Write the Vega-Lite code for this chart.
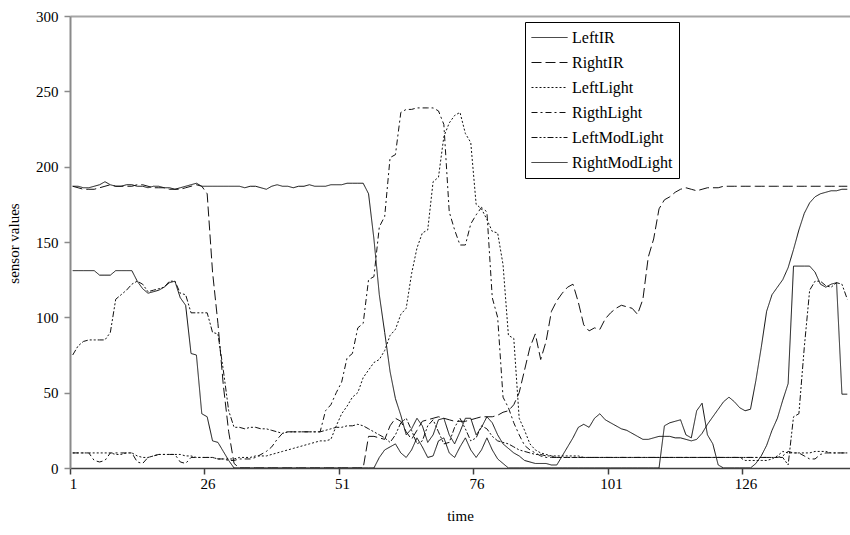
{
"$schema": "https://vega.github.io/schema/vega-lite/v6.json",
"width": 780, "height": 452,
"autosize": {"type": "none"},
"padding": {"left": 70, "top": 16, "right": 0, "bottom": 67},
"background": "white",
"config": {"font": "Liberation Serif", "view": {"stroke": null}},
"data": {"values": [
{"t":1,"LeftIR":187,"RightIR":187,"LeftLight":10,"RigthLight":10,"LeftModLight":75,"RightModLight":131},
{"t":2,"LeftIR":187,"RightIR":186,"LeftLight":10,"RigthLight":10,"LeftModLight":81,"RightModLight":131},
{"t":3,"LeftIR":186,"RightIR":185,"LeftLight":10,"RigthLight":10,"LeftModLight":84,"RightModLight":131},
{"t":4,"LeftIR":186,"RightIR":185,"LeftLight":10,"RigthLight":10,"LeftModLight":85,"RightModLight":131},
{"t":5,"LeftIR":187,"RightIR":185,"LeftLight":10,"RigthLight":5,"LeftModLight":85,"RightModLight":131},
{"t":6,"LeftIR":188,"RightIR":186,"LeftLight":10,"RigthLight":4,"LeftModLight":85,"RightModLight":128},
{"t":7,"LeftIR":190,"RightIR":187,"LeftLight":10,"RigthLight":5,"LeftModLight":85,"RightModLight":128},
{"t":8,"LeftIR":188,"RightIR":188,"LeftLight":10,"RigthLight":10,"LeftModLight":90,"RightModLight":128},
{"t":9,"LeftIR":187,"RightIR":187,"LeftLight":9,"RigthLight":10,"LeftModLight":112,"RightModLight":131},
{"t":10,"LeftIR":187,"RightIR":187,"LeftLight":9,"RigthLight":10,"LeftModLight":115,"RightModLight":131},
{"t":11,"LeftIR":188,"RightIR":187,"LeftLight":10,"RigthLight":10,"LeftModLight":118,"RightModLight":131},
{"t":12,"LeftIR":188,"RightIR":187,"LeftLight":10,"RigthLight":10,"LeftModLight":122,"RightModLight":131},
{"t":13,"LeftIR":187,"RightIR":188,"LeftLight":8,"RigthLight":4,"LeftModLight":124,"RightModLight":124},
{"t":14,"LeftIR":187,"RightIR":188,"LeftLight":7,"RigthLight":3,"LeftModLight":122,"RightModLight":119},
{"t":15,"LeftIR":186,"RightIR":187,"LeftLight":7,"RigthLight":7,"LeftModLight":117,"RightModLight":116},
{"t":16,"LeftIR":187,"RightIR":186,"LeftLight":8,"RigthLight":8,"LeftModLight":118,"RightModLight":117},
{"t":17,"LeftIR":187,"RightIR":186,"LeftLight":9,"RigthLight":9,"LeftModLight":119,"RightModLight":118},
{"t":18,"LeftIR":186,"RightIR":186,"LeftLight":9,"RigthLight":9,"LeftModLight":120,"RightModLight":120},
{"t":19,"LeftIR":186,"RightIR":185,"LeftLight":9,"RigthLight":9,"LeftModLight":124,"RightModLight":123},
{"t":20,"LeftIR":185,"RightIR":185,"LeftLight":9,"RigthLight":9,"LeftModLight":124,"RightModLight":124},
{"t":21,"LeftIR":186,"RightIR":185,"LeftLight":9,"RigthLight":4,"LeftModLight":116,"RightModLight":113},
{"t":22,"LeftIR":187,"RightIR":186,"LeftLight":8,"RigthLight":3,"LeftModLight":115,"RightModLight":108},
{"t":23,"LeftIR":188,"RightIR":187,"LeftLight":8,"RigthLight":7,"LeftModLight":103,"RightModLight":76},
{"t":24,"LeftIR":189,"RightIR":188,"LeftLight":7,"RigthLight":7,"LeftModLight":103,"RightModLight":75},
{"t":25,"LeftIR":187,"RightIR":187,"LeftLight":7,"RigthLight":7,"LeftModLight":103,"RightModLight":36},
{"t":26,"LeftIR":187,"RightIR":182,"LeftLight":7,"RigthLight":7,"LeftModLight":103,"RightModLight":34},
{"t":27,"LeftIR":187,"RightIR":130,"LeftLight":7,"RigthLight":7,"LeftModLight":90,"RightModLight":18},
{"t":28,"LeftIR":187,"RightIR":96,"LeftLight":6,"RigthLight":6,"LeftModLight":89,"RightModLight":17},
{"t":29,"LeftIR":187,"RightIR":55,"LeftLight":6,"RigthLight":6,"LeftModLight":65,"RightModLight":11},
{"t":30,"LeftIR":187,"RightIR":24,"LeftLight":6,"RigthLight":5,"LeftModLight":38,"RightModLight":5},
{"t":31,"LeftIR":187,"RightIR":3,"LeftLight":6,"RigthLight":5,"LeftModLight":27,"RightModLight":0},
{"t":32,"LeftIR":187,"RightIR":0,"LeftLight":7,"RigthLight":6,"LeftModLight":27,"RightModLight":0},
{"t":33,"LeftIR":186,"RightIR":0,"LeftLight":7,"RigthLight":6,"LeftModLight":26,"RightModLight":0},
{"t":34,"LeftIR":187,"RightIR":0,"LeftLight":7,"RigthLight":6,"LeftModLight":27,"RightModLight":0},
{"t":35,"LeftIR":187,"RightIR":0,"LeftLight":8,"RigthLight":7,"LeftModLight":27,"RightModLight":0},
{"t":36,"LeftIR":186,"RightIR":0,"LeftLight":8,"RigthLight":9,"LeftModLight":26,"RightModLight":0},
{"t":37,"LeftIR":185,"RightIR":0,"LeftLight":8,"RigthLight":11,"LeftModLight":26,"RightModLight":0},
{"t":38,"LeftIR":187,"RightIR":0,"LeftLight":9,"RigthLight":14,"LeftModLight":25,"RightModLight":0},
{"t":39,"LeftIR":188,"RightIR":0,"LeftLight":10,"RigthLight":19,"LeftModLight":24,"RightModLight":0},
{"t":40,"LeftIR":187,"RightIR":0,"LeftLight":11,"RigthLight":23,"LeftModLight":23,"RightModLight":0},
{"t":41,"LeftIR":187,"RightIR":0,"LeftLight":12,"RigthLight":24,"LeftModLight":24,"RightModLight":0},
{"t":42,"LeftIR":186,"RightIR":0,"LeftLight":13,"RigthLight":24,"LeftModLight":24,"RightModLight":0},
{"t":43,"LeftIR":187,"RightIR":0,"LeftLight":14,"RigthLight":24,"LeftModLight":24,"RightModLight":0},
{"t":44,"LeftIR":187,"RightIR":0,"LeftLight":15,"RigthLight":24,"LeftModLight":24,"RightModLight":0},
{"t":45,"LeftIR":188,"RightIR":0,"LeftLight":16,"RigthLight":24,"LeftModLight":24,"RightModLight":0},
{"t":46,"LeftIR":187,"RightIR":0,"LeftLight":17,"RigthLight":24,"LeftModLight":24,"RightModLight":0},
{"t":47,"LeftIR":187,"RightIR":0,"LeftLight":18,"RigthLight":24,"LeftModLight":24,"RightModLight":0},
{"t":48,"LeftIR":187,"RightIR":0,"LeftLight":18,"RigthLight":38,"LeftModLight":25,"RightModLight":0},
{"t":49,"LeftIR":188,"RightIR":0,"LeftLight":19,"RigthLight":42,"LeftModLight":26,"RightModLight":0},
{"t":50,"LeftIR":188,"RightIR":0,"LeftLight":28,"RigthLight":50,"LeftModLight":27,"RightModLight":0},
{"t":51,"LeftIR":188,"RightIR":0,"LeftLight":36,"RigthLight":57,"LeftModLight":27,"RightModLight":0},
{"t":52,"LeftIR":189,"RightIR":0,"LeftLight":41,"RigthLight":73,"LeftModLight":28,"RightModLight":0},
{"t":53,"LeftIR":189,"RightIR":0,"LeftLight":47,"RigthLight":76,"LeftModLight":28,"RightModLight":0},
{"t":54,"LeftIR":189,"RightIR":0,"LeftLight":50,"RigthLight":93,"LeftModLight":29,"RightModLight":0},
{"t":55,"LeftIR":189,"RightIR":0,"LeftLight":60,"RigthLight":96,"LeftModLight":28,"RightModLight":0},
{"t":56,"LeftIR":182,"RightIR":21,"LeftLight":65,"RigthLight":125,"LeftModLight":26,"RightModLight":0},
{"t":57,"LeftIR":152,"RightIR":21,"LeftLight":70,"RigthLight":127,"LeftModLight":24,"RightModLight":0},
{"t":58,"LeftIR":115,"RightIR":20,"LeftLight":72,"RigthLight":160,"LeftModLight":22,"RightModLight":7},
{"t":59,"LeftIR":90,"RightIR":19,"LeftLight":78,"RigthLight":167,"LeftModLight":20,"RightModLight":12},
{"t":60,"LeftIR":64,"RightIR":28,"LeftLight":88,"RigthLight":206,"LeftModLight":17,"RightModLight":14},
{"t":61,"LeftIR":46,"RightIR":33,"LeftLight":92,"RigthLight":208,"LeftModLight":22,"RightModLight":16},
{"t":62,"LeftIR":35,"RightIR":31,"LeftLight":102,"RigthLight":236,"LeftModLight":30,"RightModLight":10},
{"t":63,"LeftIR":22,"RightIR":24,"LeftLight":106,"RigthLight":238,"LeftModLight":33,"RightModLight":7},
{"t":64,"LeftIR":26,"RightIR":19,"LeftLight":129,"RigthLight":238,"LeftModLight":25,"RightModLight":12},
{"t":65,"LeftIR":33,"RightIR":25,"LeftLight":146,"RigthLight":239,"LeftModLight":16,"RightModLight":20},
{"t":66,"LeftIR":28,"RightIR":31,"LeftLight":156,"RigthLight":239,"LeftModLight":18,"RightModLight":14},
{"t":67,"LeftIR":17,"RightIR":32,"LeftLight":158,"RigthLight":239,"LeftModLight":28,"RightModLight":7},
{"t":68,"LeftIR":22,"RightIR":33,"LeftLight":190,"RigthLight":239,"LeftModLight":32,"RightModLight":8},
{"t":69,"LeftIR":32,"RightIR":34,"LeftLight":193,"RigthLight":237,"LeftModLight":24,"RightModLight":18},
{"t":70,"LeftIR":33,"RightIR":33,"LeftLight":220,"RigthLight":228,"LeftModLight":16,"RightModLight":20},
{"t":71,"LeftIR":22,"RightIR":32,"LeftLight":229,"RigthLight":170,"LeftModLight":17,"RightModLight":10},
{"t":72,"LeftIR":16,"RightIR":31,"LeftLight":234,"RigthLight":158,"LeftModLight":27,"RightModLight":7},
{"t":73,"LeftIR":24,"RightIR":31,"LeftLight":236,"RigthLight":148,"LeftModLight":33,"RightModLight":14},
{"t":74,"LeftIR":33,"RightIR":31,"LeftLight":222,"RigthLight":148,"LeftModLight":26,"RightModLight":20},
{"t":75,"LeftIR":33,"RightIR":32,"LeftLight":216,"RigthLight":162,"LeftModLight":18,"RightModLight":12},
{"t":76,"LeftIR":22,"RightIR":33,"LeftLight":175,"RigthLight":168,"LeftModLight":20,"RightModLight":7},
{"t":77,"LeftIR":27,"RightIR":34,"LeftLight":172,"RigthLight":173,"LeftModLight":28,"RightModLight":12},
{"t":78,"LeftIR":34,"RightIR":34,"LeftLight":165,"RigthLight":170,"LeftModLight":26,"RightModLight":20},
{"t":79,"LeftIR":30,"RightIR":34,"LeftLight":157,"RigthLight":113,"LeftModLight":21,"RightModLight":12},
{"t":80,"LeftIR":22,"RightIR":35,"LeftLight":156,"RigthLight":100,"LeftModLight":18,"RightModLight":6},
{"t":81,"LeftIR":16,"RightIR":37,"LeftLight":135,"RigthLight":47,"LeftModLight":17,"RightModLight":3},
{"t":82,"LeftIR":13,"RightIR":38,"LeftLight":88,"RigthLight":40,"LeftModLight":16,"RightModLight":0},
{"t":83,"LeftIR":10,"RightIR":42,"LeftLight":86,"RigthLight":30,"LeftModLight":14,"RightModLight":0},
{"t":84,"LeftIR":8,"RightIR":50,"LeftLight":33,"RigthLight":22,"LeftModLight":12,"RightModLight":0},
{"t":85,"LeftIR":5,"RightIR":65,"LeftLight":25,"RigthLight":15,"LeftModLight":11,"RightModLight":0},
{"t":86,"LeftIR":4,"RightIR":80,"LeftLight":16,"RigthLight":12,"LeftModLight":10,"RightModLight":0},
{"t":87,"LeftIR":3,"RightIR":89,"LeftLight":12,"RigthLight":10,"LeftModLight":9,"RightModLight":0},
{"t":88,"LeftIR":3,"RightIR":72,"LeftLight":10,"RigthLight":8,"LeftModLight":9,"RightModLight":0},
{"t":89,"LeftIR":3,"RightIR":84,"LeftLight":9,"RigthLight":7,"LeftModLight":8,"RightModLight":0},
{"t":90,"LeftIR":2,"RightIR":104,"LeftLight":8,"RigthLight":7,"LeftModLight":8,"RightModLight":0},
{"t":91,"LeftIR":2,"RightIR":111,"LeftLight":8,"RigthLight":7,"LeftModLight":7,"RightModLight":0},
{"t":92,"LeftIR":8,"RightIR":116,"LeftLight":8,"RigthLight":7,"LeftModLight":7,"RightModLight":0},
{"t":93,"LeftIR":14,"RightIR":120,"LeftLight":8,"RigthLight":7,"LeftModLight":7,"RightModLight":0},
{"t":94,"LeftIR":20,"RightIR":122,"LeftLight":8,"RigthLight":7,"LeftModLight":7,"RightModLight":0},
{"t":95,"LeftIR":27,"RightIR":110,"LeftLight":8,"RigthLight":7,"LeftModLight":7,"RightModLight":0},
{"t":96,"LeftIR":29,"RightIR":95,"LeftLight":7,"RigthLight":7,"LeftModLight":7,"RightModLight":0},
{"t":97,"LeftIR":27,"RightIR":91,"LeftLight":7,"RigthLight":7,"LeftModLight":7,"RightModLight":0},
{"t":98,"LeftIR":33,"RightIR":93,"LeftLight":7,"RigthLight":7,"LeftModLight":7,"RightModLight":0},
{"t":99,"LeftIR":36,"RightIR":92,"LeftLight":7,"RigthLight":7,"LeftModLight":7,"RightModLight":0},
{"t":100,"LeftIR":32,"RightIR":99,"LeftLight":7,"RigthLight":7,"LeftModLight":7,"RightModLight":0},
{"t":101,"LeftIR":30,"RightIR":103,"LeftLight":7,"RigthLight":7,"LeftModLight":7,"RightModLight":0},
{"t":102,"LeftIR":28,"RightIR":106,"LeftLight":7,"RigthLight":7,"LeftModLight":7,"RightModLight":0},
{"t":103,"LeftIR":26,"RightIR":108,"LeftLight":7,"RigthLight":7,"LeftModLight":7,"RightModLight":0},
{"t":104,"LeftIR":25,"RightIR":107,"LeftLight":7,"RigthLight":7,"LeftModLight":7,"RightModLight":0},
{"t":105,"LeftIR":23,"RightIR":106,"LeftLight":7,"RigthLight":7,"LeftModLight":7,"RightModLight":0},
{"t":106,"LeftIR":21,"RightIR":102,"LeftLight":7,"RigthLight":7,"LeftModLight":7,"RightModLight":0},
{"t":107,"LeftIR":19,"RightIR":112,"LeftLight":7,"RigthLight":7,"LeftModLight":7,"RightModLight":0},
{"t":108,"LeftIR":19,"RightIR":140,"LeftLight":7,"RigthLight":7,"LeftModLight":7,"RightModLight":0},
{"t":109,"LeftIR":20,"RightIR":152,"LeftLight":7,"RigthLight":7,"LeftModLight":7,"RightModLight":0},
{"t":110,"LeftIR":21,"RightIR":172,"LeftLight":7,"RigthLight":7,"LeftModLight":7,"RightModLight":0},
{"t":111,"LeftIR":21,"RightIR":178,"LeftLight":7,"RigthLight":7,"LeftModLight":7,"RightModLight":28},
{"t":112,"LeftIR":21,"RightIR":180,"LeftLight":7,"RigthLight":7,"LeftModLight":7,"RightModLight":30},
{"t":113,"LeftIR":20,"RightIR":183,"LeftLight":7,"RigthLight":7,"LeftModLight":7,"RightModLight":31},
{"t":114,"LeftIR":20,"RightIR":185,"LeftLight":7,"RigthLight":7,"LeftModLight":7,"RightModLight":32},
{"t":115,"LeftIR":19,"RightIR":186,"LeftLight":7,"RigthLight":7,"LeftModLight":7,"RightModLight":22},
{"t":116,"LeftIR":18,"RightIR":185,"LeftLight":7,"RigthLight":7,"LeftModLight":7,"RightModLight":20},
{"t":117,"LeftIR":19,"RightIR":184,"LeftLight":7,"RigthLight":7,"LeftModLight":7,"RightModLight":38},
{"t":118,"LeftIR":23,"RightIR":185,"LeftLight":7,"RigthLight":7,"LeftModLight":7,"RightModLight":43},
{"t":119,"LeftIR":29,"RightIR":186,"LeftLight":7,"RigthLight":7,"LeftModLight":7,"RightModLight":22},
{"t":120,"LeftIR":34,"RightIR":186,"LeftLight":7,"RigthLight":7,"LeftModLight":7,"RightModLight":16},
{"t":121,"LeftIR":39,"RightIR":186,"LeftLight":7,"RigthLight":7,"LeftModLight":7,"RightModLight":2},
{"t":122,"LeftIR":44,"RightIR":187,"LeftLight":7,"RigthLight":7,"LeftModLight":7,"RightModLight":0},
{"t":123,"LeftIR":47,"RightIR":187,"LeftLight":7,"RigthLight":7,"LeftModLight":7,"RightModLight":0},
{"t":124,"LeftIR":44,"RightIR":187,"LeftLight":7,"RigthLight":7,"LeftModLight":7,"RightModLight":0},
{"t":125,"LeftIR":40,"RightIR":187,"LeftLight":7,"RigthLight":7,"LeftModLight":7,"RightModLight":0},
{"t":126,"LeftIR":38,"RightIR":187,"LeftLight":5,"RigthLight":7,"LeftModLight":7,"RightModLight":0},
{"t":127,"LeftIR":39,"RightIR":187,"LeftLight":5,"RigthLight":7,"LeftModLight":7,"RightModLight":0},
{"t":128,"LeftIR":58,"RightIR":187,"LeftLight":5,"RigthLight":7,"LeftModLight":7,"RightModLight":3},
{"t":129,"LeftIR":80,"RightIR":187,"LeftLight":5,"RigthLight":7,"LeftModLight":7,"RightModLight":8},
{"t":130,"LeftIR":104,"RightIR":187,"LeftLight":5,"RigthLight":7,"LeftModLight":7,"RightModLight":15},
{"t":131,"LeftIR":115,"RightIR":187,"LeftLight":6,"RigthLight":7,"LeftModLight":7,"RightModLight":25},
{"t":132,"LeftIR":120,"RightIR":187,"LeftLight":8,"RigthLight":7,"LeftModLight":7,"RightModLight":33},
{"t":133,"LeftIR":125,"RightIR":187,"LeftLight":11,"RigthLight":8,"LeftModLight":7,"RightModLight":45},
{"t":134,"LeftIR":133,"RightIR":187,"LeftLight":10,"RigthLight":11,"LeftModLight":2,"RightModLight":56},
{"t":135,"LeftIR":145,"RightIR":187,"LeftLight":10,"RigthLight":10,"LeftModLight":34,"RightModLight":134},
{"t":136,"LeftIR":158,"RightIR":187,"LeftLight":10,"RigthLight":10,"LeftModLight":36,"RightModLight":134},
{"t":137,"LeftIR":169,"RightIR":187,"LeftLight":10,"RigthLight":8,"LeftModLight":80,"RightModLight":134},
{"t":138,"LeftIR":176,"RightIR":187,"LeftLight":10,"RigthLight":6,"LeftModLight":118,"RightModLight":134},
{"t":139,"LeftIR":180,"RightIR":187,"LeftLight":11,"RigthLight":6,"LeftModLight":124,"RightModLight":130},
{"t":140,"LeftIR":182,"RightIR":187,"LeftLight":11,"RigthLight":9,"LeftModLight":124,"RightModLight":122},
{"t":141,"LeftIR":183,"RightIR":187,"LeftLight":11,"RigthLight":10,"LeftModLight":121,"RightModLight":120},
{"t":142,"LeftIR":184,"RightIR":187,"LeftLight":10,"RigthLight":10,"LeftModLight":120,"RightModLight":122},
{"t":143,"LeftIR":184,"RightIR":187,"LeftLight":10,"RigthLight":10,"LeftModLight":123,"RightModLight":123},
{"t":144,"LeftIR":185,"RightIR":187,"LeftLight":10,"RigthLight":10,"LeftModLight":122,"RightModLight":49},
{"t":145,"LeftIR":185,"RightIR":187,"LeftLight":10,"RigthLight":10,"LeftModLight":112,"RightModLight":49}
]},
"transform": [{"fold": ["LeftIR","RightIR","LeftLight","RigthLight","LeftModLight","RightModLight"], "as": ["sensor","value"]}],
"mark": {"type": "line", "strokeWidth": 1, "color": "#111111", "clip": true},
"encoding": {
  "x": {"field": "t", "type": "quantitative",
    "scale": {"domain": [0.5, 145.5], "nice": false, "zero": false},
    "axis": {"title": "time", "values": [0.5,25.5,50.5,75.5,100.5,125.5], "labelExpr": "datum.value + 0.5",
      "labelOffset": 3, "labelFlush": false, "labelOverlap": false, "grid": false,
      "domainColor": "#404040", "domainWidth": 1.5, "tickColor": "#404040", "tickSize": 6, "tickWidth": 1.5,
      "labelPadding": 2, "labelFontSize": 15, "labelColor": "#000000",
      "titleFontSize": 15, "titleFontWeight": "normal", "titleColor": "#000000", "titleY": 52, "titleBaseline": "alphabetic"}},
  "y": {"field": "value", "type": "quantitative",
    "scale": {"domain": [0, 300], "nice": false},
    "axis": {"title": "sensor values", "values": [0,50,100,150,200,250,300],
      "grid": true, "gridColor": "#a6a6a6", "gridWidth": 2,
      "gridOpacity": {"condition": {"test": "datum.value == 300", "value": 1}, "value": 0},
      "domainColor": "#8a8a8a", "domainWidth": 2, "tickColor": "#8a8a8a", "tickSize": 6, "tickWidth": 1.5,
      "labelPadding": 6, "labelFontSize": 15, "labelColor": "#000000",
      "titleFontSize": 15, "titleFontWeight": "normal", "titleColor": "#000000",
      "titleX": -57, "titleY": 227, "titleAngle": -90, "titleAlign": "center", "titleBaseline": "middle"}},
  "strokeDash": {"field": "sensor", "type": "nominal",
    "scale": {"domain": ["LeftIR","RightIR","LeftLight","RigthLight","LeftModLight","RightModLight"],
      "range": [[1,0],[10,4],[2,2],[6,3,2,3],[6,2,2,2,2,2],[1,0]]},
    "legend": {"orient": "none", "legendX": 455, "legendY": 6, "title": null,
      "symbolType": "stroke", "symbolSize": 1296, "symbolStrokeColor": "#111111", "symbolStrokeWidth": 1,
      "clipHeight": 19, "rowPadding": 6, "labelFontSize": 16, "labelColor": "#000000", "labelOffset": 4,
      "labelLimit": 300, "padding": 6, "strokeColor": "#000000", "fillColor": "#ffffff"}}
}
}
